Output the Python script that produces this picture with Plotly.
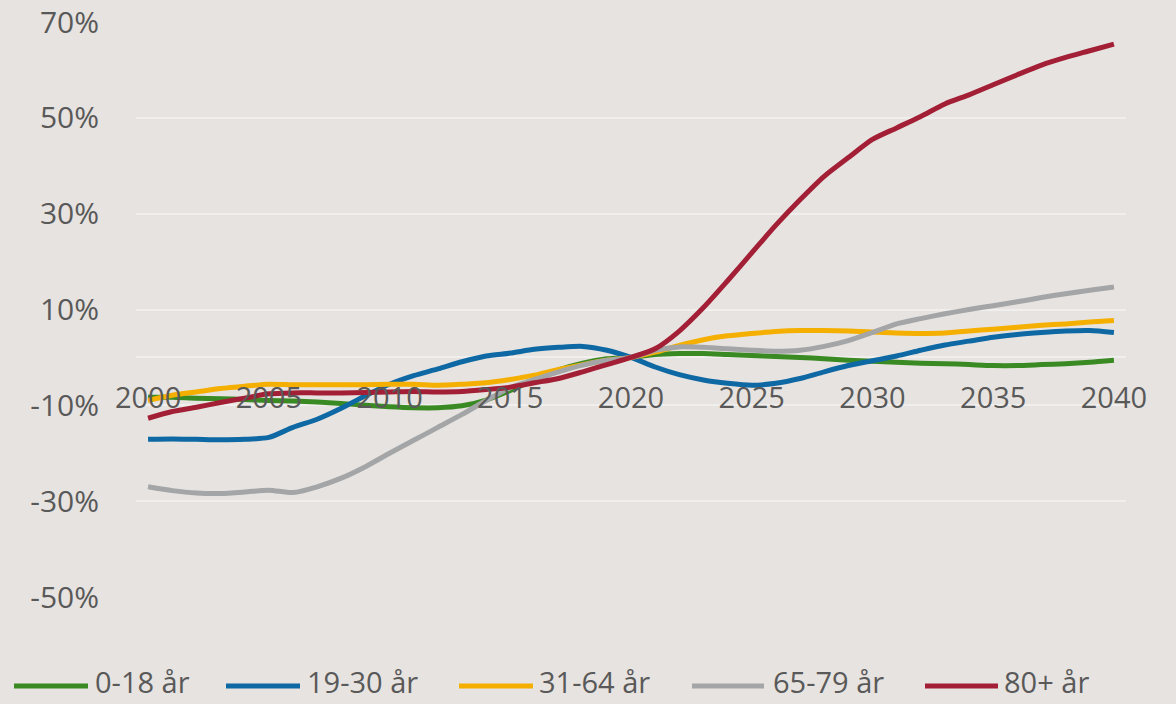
import plotly.graph_objects as go

years = list(range(2000, 2041))

series_names = ["0-18 år", "19-30 år", "31-64 år", "65-79 år", "80+ år"]
series_colors = ["#3A8A23", "#0D68A3", "#F5AF00", "#A3A5A6", "#A21F36"]

age_0_18 = [-8.3, -8.3, -8.5, -8.6, -8.8, -9.0, -9.1, -9.3, -9.6, -10.0,
            -10.3, -10.5, -10.5, -10.1, -8.9, -6.9, -4.6, -2.6, -1.2, -0.3,
            0.0, 0.6, 0.8, 0.8, 0.6, 0.4, 0.2, 0.0, -0.3, -0.6,
            -0.8, -1.0, -1.2, -1.3, -1.5, -1.7, -1.7, -1.5, -1.3, -1.0, -0.6]
age_19_30 = [-17.1, -17.0, -17.1, -17.2, -17.1, -16.7, -14.6, -12.9, -10.6, -8.0,
             -5.6, -3.8, -2.4, -0.9, 0.3, 0.9, 1.7, 2.1, 2.3, 1.5,
             0.0, -2.0, -3.6, -4.7, -5.4, -5.8, -5.4, -4.4, -3.0, -1.7,
             -0.7, 0.3, 1.5, 2.6, 3.4, 4.2, 4.8, 5.2, 5.5, 5.6, 5.2]
age_31_64 = [-9.0, -7.9, -7.2, -6.5, -6.0, -5.6, -5.7, -5.7, -5.7, -5.7,
             -5.6, -5.6, -5.8, -5.6, -5.3, -4.6, -3.7, -2.5, -1.5, -0.6,
             0.0, 1.1, 2.5, 3.7, 4.5, 5.0, 5.4, 5.6, 5.6, 5.5,
             5.3, 5.1, 5.0, 5.1, 5.5, 5.9, 6.3, 6.7, 7.0, 7.4, 7.7]
age_65_79 = [-27.0, -27.8, -28.3, -28.4, -28.1, -27.7, -28.2, -27.0, -25.2, -22.8,
             -20.0, -17.3, -14.6, -11.9, -9.0, -6.3, -4.6, -3.0, -1.6, -0.6,
             0.0, 1.5, 2.2, 2.1, 1.8, 1.5, 1.3, 1.5, 2.3, 3.5,
             5.2, 7.0, 8.1, 9.1, 10.0, 10.8, 11.6, 12.5, 13.3, 14.0, 14.7]
age_80_plus = [-12.7, -11.3, -10.4, -9.4, -8.5, -7.6, -7.4, -7.4, -7.4, -7.3,
               -7.2, -7.1, -7.2, -7.1, -6.7, -6.2, -5.3, -4.4, -3.0, -1.5,
               0.0, 1.8, 5.5, 10.4, 16.0, 21.8, 27.6, 32.9, 37.8, 41.7,
               45.5, 47.9, 50.3, 52.9, 54.8, 56.9, 59.0, 61.0, 62.6, 64.0, 65.4]

series_values = [age_0_18, age_19_30, age_31_64, age_65_79, age_80_plus]

y_tick_values = [-50, -30, -10, 10, 30, 50, 70]
y_tick_labels = ["-50%", "-30%", "-10%", "10%", "30%", "50%", "70%"]
x_tick_values = [2000, 2005, 2010, 2015, 2020, 2025, 2030, 2035, 2040]
x_tick_labels = [str(v) for v in x_tick_values]

BG = "#E7E3E0"
GRID = "#F1EFED"
TEXT = "#595959"
FONT = "Open Sans"

fig = go.Figure()
for name, color, vals in zip(series_names, series_colors, series_values):
    fig.add_trace(go.Scatter(
        x=years, y=vals, name=name, mode="lines",
        line=dict(color=color, width=5, shape="spline", smoothing=0.7),
        showlegend=False,
    ))

# custom legend (long line samples like the original)
legend_line_x = [(14, 88), (226, 300), (459, 533), (692, 764), (925, 998)]
legend_text_x = [93, 305, 537, 771, 1002]
plot_left, plot_w = 136, 990
plot_bottom, plot_h = 597, 575
leg_line_y = (plot_bottom - 686) / plot_h
leg_text_y = (plot_bottom - 703) / plot_h
for (x0, x1), tx, name, color in zip(legend_line_x, legend_text_x, series_names, series_colors):
    fig.add_shape(type="line", xref="paper", yref="paper",
                  x0=(x0 - plot_left) / plot_w, x1=(x1 - plot_left) / plot_w,
                  y0=leg_line_y, y1=leg_line_y, line=dict(color=color, width=5))
    fig.add_annotation(xref="paper", yref="paper", x=(tx - plot_left) / plot_w, y=leg_text_y,
                       text=name, showarrow=False, xanchor="left", yanchor="bottom",
                       font=dict(family=FONT, size=29, color=TEXT))

zero_pos = (plot_bottom - 357) / plot_h

fig.update_layout(
    width=1176, height=704,
    margin=dict(l=136, r=50, t=22, b=107, autoexpand=False),
    paper_bgcolor=BG, plot_bgcolor=BG,
    font=dict(family=FONT, color=TEXT),
    xaxis=dict(
        range=[1999.5, 2040.5],
        tickvals=x_tick_values, ticktext=x_tick_labels,
        showgrid=False, zeroline=False, showline=False, ticks="",
        anchor="free", position=zero_pos, automargin=False,
        ticklabelstandoff=21,
        tickfont=dict(family=FONT, size=29, color=TEXT),
    ),
    yaxis=dict(
        range=[-50, 70], automargin=False,
        tickvals=y_tick_values, ticktext=y_tick_labels,
        showgrid=True, gridcolor=GRID, gridwidth=2,
        zeroline=True, zerolinecolor=GRID, zerolinewidth=2,
        showline=False, ticks="",
        ticklabelstandoff=36,
        tickfont=dict(family=FONT, size=30, color=TEXT),
    ),
)

fig.write_html(
    "out.html",
    config={"displayModeBar": False},
    post_script="document.body.style.margin='0';document.body.style.overflow='hidden';",
)
